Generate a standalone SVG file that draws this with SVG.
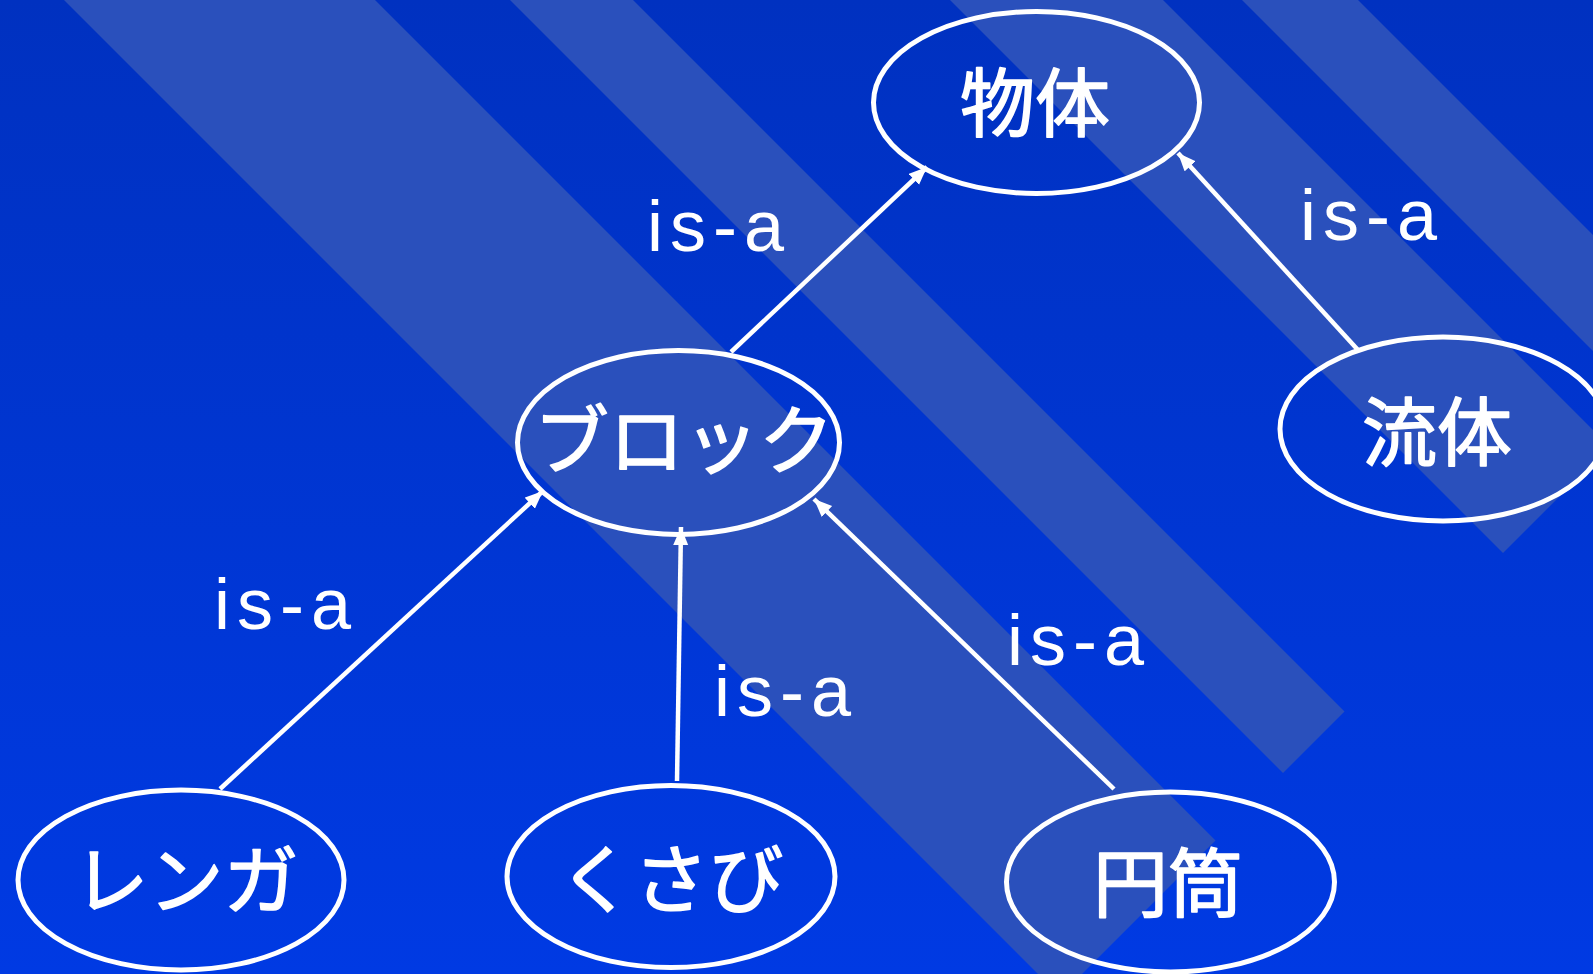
<svg xmlns="http://www.w3.org/2000/svg" width="1593" height="974" viewBox="0 0 1593 974">
  <defs>
    <linearGradient id="bg" x1="0" y1="0" x2="0" y2="1">
      <stop offset="0" stop-color="#0031c0"/>
      <stop offset="1" stop-color="#003ae3"/>
    </linearGradient>
    <marker id="arr" markerUnits="userSpaceOnUse" markerWidth="22" markerHeight="18" refX="18" refY="7.5" orient="auto">
      <path d="M0,0 L18,7.5 L0,15 Z" fill="#ffffff"/>
    </marker>
    <style>
      .stripe { fill: #2a50bc; }
      .node ellipse { fill: none; stroke: #ffffff; stroke-width: 5; }
      .node text { fill: #ffffff; stroke: #ffffff; stroke-width: 1.6px; stroke-linejoin: round; font-family: "Noto Sans CJK JP", "Noto Sans CJK SC", sans-serif; font-size: 75px; font-weight: 400; text-anchor: middle; }
      .edge { stroke: #ffffff; stroke-width: 4.5; fill: none; marker-end: url(#arr); }
      .lbl { fill: #ffffff; font-family: "Liberation Sans", Arial, sans-serif; font-size: 72px; letter-spacing: 7px; }
    </style>
  </defs>
  <rect x="0" y="0" width="1593" height="974" fill="url(#bg)"/>
  <g id="stripes">
    <polygon class="stripe" points="64,0 375,0 1215.5,840.5 1060,996"/>
    <polygon class="stripe" points="510,0 633,0 1344.5,711.5 1283,773"/>
    <polygon class="stripe" points="950,0 1163,0 1609.5,446.5 1503,553"/>
    <polygon class="stripe" points="1242,0 1358,0 1707,349 1649,407"/>
  </g>
  <g id="connectors">
    <line class="edge" x1="731" y1="352" x2="927" y2="167"/>
    <line class="edge" x1="1358" y1="350" x2="1178" y2="153"/>
    <line class="edge" x1="220" y1="789" x2="543" y2="491"/>
    <line class="edge" x1="677" y1="781" x2="681" y2="527"/>
    <line class="edge" x1="1114" y1="789" x2="814" y2="499"/>
  </g>
  <g id="labels">
    <text class="lbl" x="647" y="251">is-a</text>
    <text class="lbl" x="1300" y="240">is-a</text>
    <text class="lbl" x="214" y="629">is-a</text>
    <text class="lbl" x="714" y="716">is-a</text>
    <text class="lbl" x="1007" y="665">is-a</text>
  </g>
  <g id="node-buttai" class="node">
    <ellipse cx="1036.5" cy="102.5" rx="163" ry="91"/>
    <text x="1035" y="131">物体</text>
  </g>
  <g id="node-block" class="node">
    <ellipse cx="678.5" cy="442.5" rx="161" ry="92"/>
    <text x="684" y="468">ブロック</text>
  </g>
  <g id="node-ryutai" class="node">
    <ellipse cx="1443" cy="429" rx="163" ry="92"/>
    <text x="1437" y="460">流体</text>
  </g>
  <g id="node-renga" class="node">
    <ellipse cx="181" cy="880" rx="163" ry="90"/>
    <text x="186" y="908">レンガ</text>
  </g>
  <g id="node-kusabi" class="node">
    <ellipse cx="671" cy="876.5" rx="164" ry="91"/>
    <text x="671" y="907">くさび</text>
  </g>
  <g id="node-entou" class="node">
    <ellipse cx="1170.5" cy="882" rx="164" ry="90"/>
    <text x="1168" y="911">円筒</text>
  </g>
</svg>
